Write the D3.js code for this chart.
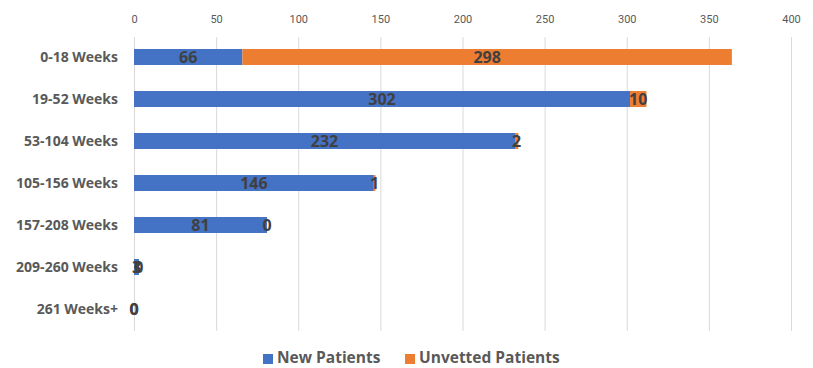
<!DOCTYPE html>
<html>
<head>
<meta charset="utf-8">
<script src="https://cdn.jsdelivr.net/npm/d3@7"></script>
<style>
  html, body { margin: 0; padding: 0; background: #fff; }
  svg { display: block; }
</style>
</head>
<body>
<svg id="chart" width="813" height="368"></svg>
<script>
// Waiting-time bands and patient counts
const categories = ["0-18 Weeks", "19-52 Weeks", "53-104 Weeks", "105-156 Weeks", "157-208 Weeks", "209-260 Weeks", "261 Weeks+"];
const newPatients = [66, 302, 232, 146, 81, 3, 0];
const unvettedPatients = [298, 10, 2, 1, 0, 0, 0];
const seriesNames = ["New Patients", "Unvetted Patients"];
const seriesColors = ["#4472C4", "#ED7D31"];
const tickValues = [0, 50, 100, 150, 200, 250, 300, 350, 400];

const rows = categories.map((c, i) => ({ cat: c, "New Patients": newPatients[i], "Unvetted Patients": unvettedPatients[i] }));
const stacked = d3.stack().keys(seriesNames)(rows);

const svg = d3.select("#chart");
const x = d3.scaleLinear().domain([0, 400]).range([134, 791]);
const y = d3.scaleBand().domain(categories).range([36, 330]).paddingInner(0.62).paddingOuter(0.31);

// Gridlines
svg.append("g").selectAll("line").data(tickValues).join("line")
  .attr("x1", d => x(d) + 0.5).attr("x2", d => x(d) + 0.5)
  .attr("y1", 37).attr("y2", 331)
  .attr("stroke", "#D9D9D9").attr("stroke-width", 1);

// Top axis labels
const axis = svg.append("g").attr("transform", "translate(0,23)")
  .call(d3.axisTop(x).tickValues(tickValues).tickSize(0).tickPadding(0));
axis.select(".domain").remove();
axis.selectAll("text")
  .attr("fill", "#595959")
  .style("font-family", "'Liberation Sans Narrow', 'Roboto', sans-serif")
  .style("font-size", "11px");

// Bars
const color = d3.scaleOrdinal().domain(seriesNames).range(seriesColors);
const layers = svg.append("g").selectAll("g").data(stacked).join("g")
  .attr("fill", d => color(d.key));
layers.selectAll("rect").data(d => d).join("rect")
  .attr("x", d => x(d[0]))
  .attr("y", d => y(d.data.cat))
  .attr("width", d => x(d[1]) - x(d[0]))
  .attr("height", y.bandwidth());

// Value labels centered in each segment
const labels = svg.append("g")
  .style("font-family", "'Open Sans', sans-serif")
  .style("font-weight", "bold")
  .style("font-size", "16px")
  .attr("fill", "#404040")
  .attr("text-anchor", "middle");
stacked.forEach(layer => {
  labels.selectAll(null).data(layer).join("text")
    .attr("x", d => x((d[0] + d[1]) / 2))
    .attr("y", d => y(d.data.cat) + y.bandwidth() / 2)
    .attr("dy", "0.36em")
    .text(d => d[1] - d[0]);
});

// Category labels
svg.append("g").selectAll("text").data(categories).join("text")
  .attr("x", 118)
  .attr("y", d => y(d) + y.bandwidth() / 2)
  .attr("dy", "0.36em")
  .attr("text-anchor", "end")
  .attr("fill", "#595959")
  .style("font-family", "'Open Sans', sans-serif")
  .style("font-weight", "bold")
  .style("font-size", "14px")
  .text(d => d);

// Legend
const legendItems = [{ name: seriesNames[0], x: 263 }, { name: seriesNames[1], x: 405 }];
const legend = svg.append("g").selectAll("g").data(legendItems).join("g")
  .attr("transform", d => `translate(${d.x},358)`);
legend.append("rect")
  .attr("x", 0).attr("y", -4).attr("width", 10).attr("height", 10)
  .attr("fill", d => color(d.name));
legend.append("text")
  .attr("x", 14).attr("y", 0).attr("dy", "0.33em")
  .attr("fill", "#595959")
  .style("font-family", "'Open Sans', sans-serif")
  .style("font-weight", "bold")
  .style("font-size", "15.5px")
  .text(d => d.name);
</script>
</body>
</html>
